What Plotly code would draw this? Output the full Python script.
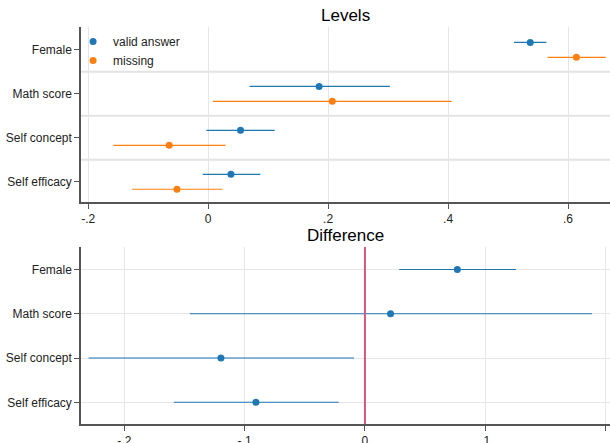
import plotly.graph_objects as go

categories = ["Female", "Math score", "Self concept", "Self efficacy"]

# Levels panel
valid_est = [0.537, 0.185, 0.054, 0.038]
valid_lo = [0.510, 0.069, -0.003, -0.009]
valid_hi = [0.564, 0.303, 0.111, 0.087]
miss_est = [0.614, 0.207, -0.065, -0.052]
miss_lo = [0.566, 0.008, -0.158, -0.127]
miss_hi = [0.663, 0.406, 0.029, 0.024]

# Difference panel
diff_est = [0.0768, 0.0213, -0.1197, -0.0906]
diff_lo = [0.0285, -0.1455, -0.2297, -0.1588]
diff_hi = [0.1255, 0.1887, -0.0091, -0.0219]

top_ticks = [-0.2, 0, 0.2, 0.4, 0.6]
top_ticktext = ["-.2", "0", ".2", ".4", ".6"]
bot_ticks = [-0.2, -0.1, 0, 0.1, 0.2]
bot_ticktext = ["-.2", "-.1", "0", ".1", ".2"]

BLUE = "#1f77b4"
ORANGE = "#ff7f0e"
FONT = "Liberation Sans, Arial, sans-serif"

n = len(categories)
ypos = [n - i for i in range(n)]
off = 0.17

fig = go.Figure()


def add_series(x, lo, hi, y, color, name, xa, ya, showlegend):
    fig.add_trace(go.Scatter(
        x=x, y=y, mode="markers", name=name, showlegend=showlegend,
        marker=dict(color=color, size=7),
        error_x=dict(type="data", symmetric=False,
                     array=[h - e for h, e in zip(hi, x)],
                     arrayminus=[e - l for e, l in zip(x, lo)],
                     color=color, thickness=1.1, width=0),
        xaxis=xa, yaxis=ya,
    ))


add_series(valid_est, valid_lo, valid_hi, [p + off for p in ypos], BLUE, "valid answer", "x", "y", True)
add_series(miss_est, miss_lo, miss_hi, [p - off for p in ypos], ORANGE, "missing", "x", "y", True)
add_series(diff_est, diff_lo, diff_hi, ypos, BLUE, "difference", "x2", "y2", False)

grid = "#e6e6e6"
axis_common = dict(showline=True, linecolor="#555555", linewidth=1.5, ticks="outside",
                   ticklen=5, tickcolor="#555555", tickwidth=1.2,
                   tickfont=dict(family=FONT, size=12, color="#222222"),
                   zeroline=False, automargin=False)

fig.update_layout(
    width=610, height=443,
    margin=dict(l=81, r=0, t=27, b=19),
    paper_bgcolor="white", plot_bgcolor="white",
    font=dict(family=FONT, size=12, color="#222222"),
    xaxis=dict(domain=[0, 1], anchor="y", range=[-0.212, 0.67], tickvals=top_ticks,
               ticktext=top_ticktext, showgrid=True, gridcolor=grid, **axis_common),
    yaxis=dict(domain=[0.559, 1], anchor="x", range=[0.54, 4.52], tickvals=ypos,
               ticktext=categories, showgrid=False, **axis_common),
    xaxis2=dict(domain=[0, 1], anchor="y2", range=[-0.236, 0.2037], tickvals=bot_ticks,
                ticktext=bot_ticktext, showgrid=True, gridcolor=grid, **axis_common),
    yaxis2=dict(domain=[0, 0.446], anchor="x2", range=[0.51, 4.51], tickvals=ypos,
                ticktext=categories, showgrid=True, gridcolor=grid, **axis_common),
    legend=dict(x=-0.015, y=1.0, xanchor="left", yanchor="top", bgcolor="rgba(0,0,0,0)",
                font=dict(family=FONT, size=12, color="#222222"), tracegroupgap=0),
    showlegend=True,
)

# separators between categories in Levels panel
for s in [3.5, 2.5, 1.5]:
    fig.add_shape(type="line", xref="x domain", yref="y", x0=0, x1=1, y0=s, y1=s,
                  line=dict(color="#e3e3e3", width=2), layer="below")

# zero reference line in Difference panel
fig.add_shape(type="line", xref="x2", yref="y2 domain", x0=0, x1=0, y0=0, y1=1,
              line=dict(color="#d4587a", width=2), layer="above")

fig.add_annotation(text="Levels", xref="paper", yref="paper", x=0.5, y=1.0,
                   yshift=0, xanchor="center", yanchor="bottom", showarrow=False,
                   font=dict(family=FONT, size=17, color="black"))
fig.add_annotation(text="Difference", xref="paper", yref="paper", x=0.5, y=0.446,
                   yshift=0, xanchor="center", yanchor="bottom", showarrow=False,
                   font=dict(family=FONT, size=17, color="black"))

fig.write_html("out.html", config={"displayModeBar": False},
               post_script="document.body.style.margin='0';document.body.style.padding='0';")
